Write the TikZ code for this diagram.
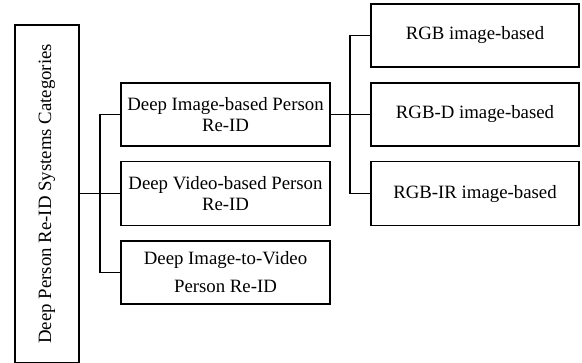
\documentclass[tikz,border=0pt]{standalone}
\usepackage{fontspec}
\setmainfont{Liberation Serif}
\begin{document}
\begin{tikzpicture}[x=1pt,y=-1pt,
  box/.style={draw, line width=1.3pt, inner sep=0pt, align=center,
    font=\fontsize{18.8}{20.5}\selectfont},
  link/.style={line width=1.3pt}]
\useasboundingbox (0,0) rectangle (582,363);
% root category box, text rotated
\node[box, minimum width=64pt, minimum height=337.5pt] (root) at (47,193.75)
  {\rotatebox{90}{Deep Person Re-ID Systems Categories}};
% middle level
\node[box, minimum width=209pt, minimum height=63pt] (m1) at (225.5,114.5)
  {Deep Image-based Person\\Re-ID};
\node[box, minimum width=209pt, minimum height=64pt] (m2) at (225.5,193.75)
  {Deep Video-based Person\\Re-ID};
\node[box, minimum width=209pt, minimum height=63pt,
  font=\fontsize{18.8}{28}\selectfont] (m3) at (225.5,272.5)
  {Deep Image-to-Video\\Person Re-ID};
% right level
\node[box, minimum width=208pt, minimum height=63pt] (r1) at (475,35.5) {RGB image-based};
\node[box, minimum width=208pt, minimum height=63pt] (r2) at (475,114.5) {RGB-D image-based};
\node[box, minimum width=208pt, minimum height=64pt] (r3) at (475,193.75) {RGB-IR image-based};
% junctions
\coordinate (j1) at (100,193.75);
\coordinate (j2) at (350,114.5);
% connectors
\draw[link] (root.east) -- (m2.west);
\draw[link] (m1.west) -| (j1) |- (m3.west);
\draw[link] (m1.east) -- (r2.west);
\draw[link] (r1.west) -| (j2) |- (r3.west);
\end{tikzpicture}
\end{document}
